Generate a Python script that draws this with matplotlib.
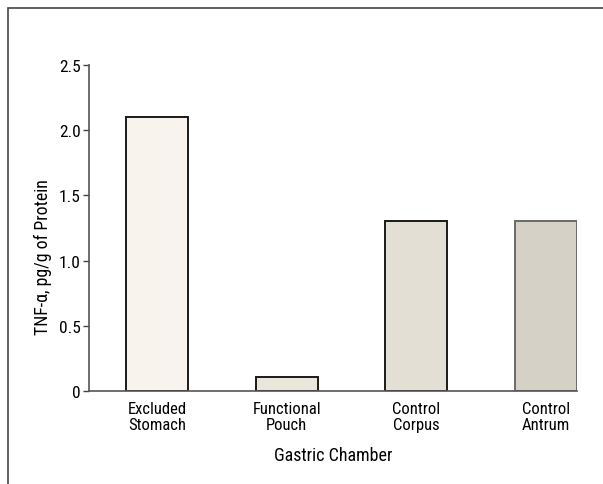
import matplotlib
matplotlib.use("Agg")
import matplotlib.pyplot as plt
from matplotlib.patches import Rectangle

plt.rcParams['font.family'] = ['Roboto Condensed', 'DejaVu Sans']

# data
chambers = ['Excluded\nStomach', 'Functional\nPouch', 'Control\nCorpus', 'Control\nAntrum']
tnf_values = [2.10, 0.11, 1.30, 1.30]
y_ticks = [0, 0.5, 1.0, 1.5, 2.0, 2.5]
y_tick_labels = ['0', '0.5', '1.0', '1.5', '2.0', '2.5']

bar_colors = ['#f8f4ed', '#e9e7dc', '#e3dfd4', '#d5d1c6']
edge_colors = ['#1a1a1a', '#1a1a1a', '#1a1a1a', '#6a6a66']

fig = plt.figure(figsize=(6.03, 4.85), dpi=100)
ax = fig.add_axes([0.1476, 0.1918, 0.8094, 0.6721])

x = list(range(len(chambers)))
for i in x:
    ax.bar(i, tnf_values[i], width=0.48, color=bar_colors[i],
           edgecolor=edge_colors[i], linewidth=1.4, zorder=2)

ax.set_xlim(-0.525, 3.24)
ax.set_ylim(0, 2.5)
ax.set_yticks(y_ticks)
ax.set_yticklabels(y_tick_labels, fontsize=12.5)
ax.set_xticks(x)
ax.set_xticklabels(chambers, fontsize=12, linespacing=1.1)
ax.tick_params(axis='x', length=0, pad=7)
ax.tick_params(axis='y', length=4, width=1, color='#444444', pad=2)

for s in ['top', 'right']:
    ax.spines[s].set_visible(False)
for s in ['left', 'bottom']:
    ax.spines[s].set_color('#555555')
    ax.spines[s].set_linewidth(1.2)

ax.set_ylabel('TNF-α, pg/g of Protein', fontsize=12.8)
ax.yaxis.set_label_coords(-0.076, 0.414)
ax.set_xlabel('Gastric Chamber', fontsize=13, labelpad=10)

# outer frame (only left and top edges show)
fig.patches.append(Rectangle((8 / 603, -0.1), 1.2, 1 - 9 / 485 + 0.1,
                             transform=fig.transFigure, fill=False,
                             edgecolor='#444444', linewidth=1.2))

fig.savefig('out.png', dpi=100)
